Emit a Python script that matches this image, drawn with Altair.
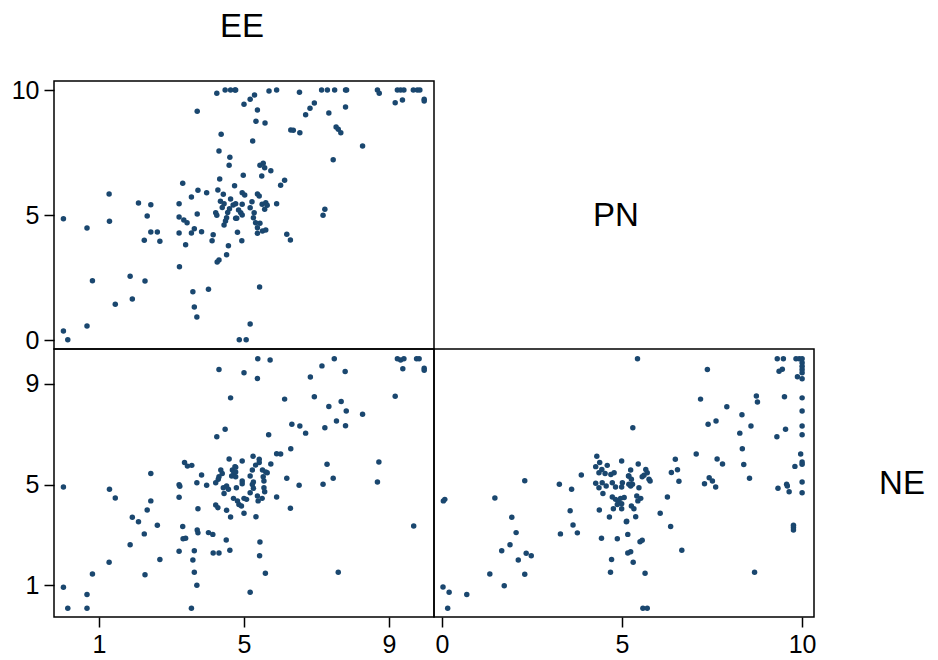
import altair as alt
import pandas as pd

NAVY = "#1a476f"
FONT = "Liberation Sans"

# (EE, PN) pairs - upper-left panel
pn_vs_ee = [
    (4.25, 9.87), (4.48, 10), (4.63, 10), (4.75, 10), (3.71, 9.15), (4.37, 8.23), (4.31, 7.56),
    (4.61, 7.31), (4.59, 6.99), (4.33, 6.44), (4.74, 6.17), (3.31, 6.27), (3.73, 5.99), (3.97, 5.89),
    (4.28, 6.0), (4.43, 5.83), (1.28, 5.84), (2.09, 5.48), (2.43, 5.41), (3.21, 5.45), (3.55, 5.72),
    (4.63, 5.64), (2.33, 4.96), (3.71, 5.04), (3.21, 4.92),
    (4.35, 5.55), (4.45, 5.45), (4.4, 5.3), (4.6, 5.25), (4.7, 5.4), (4.55, 5.1), (4.85, 5.2),
    (0.02, 4.85), (0.67, 4.48), (1.29, 4.75), (3.34, 4.8), (3.43, 4.69), (4.22, 5.09), (4.25, 4.99),
    (4.52, 4.89), (4.49, 4.76), (4.45, 4.6), (4.77, 4.87), (2.43, 4.32), (2.61, 4.32), (2.25, 3.99),
    (2.68, 3.95), (3.21, 4.28), (3.55, 4.28), (3.63, 4.45), (3.83, 4.33), (4.15, 4.21), (4.12, 3.97),
    (3.39, 3.81), (4.57, 3.77), (4.82, 4.31), (4.52, 3.41), (4.26, 3.12), (4.31, 3.2), (3.22, 2.93),
    (0.82, 2.37), (1.86, 2.55), (2.27, 2.36), (1.45, 1.43), (1.92, 1.64), (3.59, 1.93), (4.02, 2.03),
    (3.63, 1.32), (3.70, 0.92), (0.02, 0.36), (0.14, 0.01), (0.67, 0.56), (4.87, 0.01), (5.06, 0.01),
    (4.77, 10), (5.69, 9.96), (5.9, 10), (6.53, 9.91), (7.14, 10), (7.3, 10), (7.5, 10), (7.8, 10),
    (7.83, 10), (8.68, 10), (8.73, 9.87), (9.23, 10), (9.32, 10), (9.41, 10), (9.67, 10), (9.78, 10),
    (9.85, 10), (9.97, 9.63), (9.97, 9.56), (9.17, 9.49), (9.37, 9.6), (5.0, 9.43), (5.17, 9.63),
    (5.29, 9.8), (5.37, 9.2), (5.33, 8.75), (5.58, 8.68), (6.70, 9.01), (6.82, 9.27), (6.94, 9.48),
    (7.34, 9.08), (7.8, 9.32), (6.29, 8.4), (6.36, 8.39), (6.54, 8.29), (7.54, 8.52), (7.6, 8.43),
    (7.67, 8.29), (8.27, 7.76), (5.24, 7.96), (7.46, 7.21), (5.44, 6.99), (5.53, 7.07), (5.57, 6.89),
    (5.74, 6.77), (4.98, 6.59), (5.49, 6.56), (6.12, 6.39), (6.01, 6.19), (4.95, 5.89), (5.02, 5.8),
    (5.37, 5.84), (5.42, 5.76), (5.22, 5.53), (4.77, 5.45), (4.95, 5.43), (5.17, 5.29), (5.5, 5.43),
    (5.6, 5.49), (5.64, 5.39), (5.57, 5.23), (5.9, 5.45), (5.28, 5.09), (4.91, 5.09), (7.23, 5.23),
    (7.18, 4.99), (4.8, 4.87), (4.95, 5.0), (5.26, 4.89), (5.32, 4.69), (5.44, 4.67), (5.37, 4.49),
    (5.51, 4.36), (5.6, 4.4), (5.37, 4.27), (4.94, 3.97), (6.18, 4.23), (6.28, 4.0), (5.43, 2.12),
    (5.17, 0.64),
]

# (EE, NE) pairs - lower-left panel
ne_vs_ee = [
    (4.31, 9.57), (4.63, 8.44), (4.48, 7.19), (4.25, 6.9), (4.59, 6.01), (3.36, 5.87), (3.44, 5.73),
    (3.56, 5.76), (2.43, 5.44), (3.83, 5.38), (4.36, 5.58), (4.40, 5.44), (4.31, 5.31), (4.29, 5.21),
    (4.68, 5.58), (4.75, 5.71), (4.72, 5.47), (4.66, 5.34), (0.02, 4.9), (3.21, 4.99), (3.23, 4.93),
    (3.70, 5.07), (3.97, 4.97), (4.22, 5.07),
    (5.38, 9.99), (5.72, 9.94), (7.49, 9.99), (7.15, 9.71), (5.0, 9.44), (5.37, 9.21), (6.83, 9.27),
    (7.79, 9.49), (9.23, 9.99), (9.32, 9.94), (9.41, 9.99), (9.76, 9.99), (9.83, 9.99), (9.38, 9.6),
    (9.97, 9.62), (9.97, 9.54), (9.17, 8.5), (6.12, 8.39), (6.94, 8.48), (7.34, 8.1), (7.68, 8.3),
    (7.82, 7.92), (8.27, 7.79), (6.32, 7.39), (6.54, 7.32), (6.70, 7.04), (7.23, 7.25), (7.55, 7.52),
    (7.8, 7.33), (5.68, 6.98), (6.29, 6.42), (5.9, 6.22), (6.01, 6.21), (4.95, 5.93), (5.25, 6.12),
    (5.42, 6.0), (5.32, 5.77), (5.42, 5.87), (5.74, 5.81), (7.29, 5.8), (8.72, 5.89),
    (4.77, 5.69), (4.77, 5.5), (4.77, 5.31), (4.95, 5.14), (5.23, 5.58), (5.17, 5.34), (5.51, 5.58),
    (5.6, 5.5), (5.64, 5.47), (5.53, 5.31), (5.55, 5.14), (5.26, 5.1), (5.23, 5.0), (6.18, 5.25),
    (6.52, 4.97), (7.18, 5.01), (7.46, 5.25), (8.68, 5.1),
    (1.29, 4.81), (1.45, 4.46), (2.43, 4.35), (2.33, 3.99), (1.92, 3.7), (2.09, 3.52), (2.61, 3.38),
    (2.25, 3.04), (1.86, 2.61), (1.28, 1.91), (0.82, 1.45), (2.27, 1.42), (2.68, 2.02), (3.21, 4.49),
    (4.43, 4.87), (4.52, 4.94), (4.57, 4.81), (4.45, 4.64), (4.79, 4.87), (4.71, 4.45), (4.82, 4.35),
    (4.86, 4.21), (4.22, 4.19), (4.28, 4.08), (4.52, 3.98), (4.63, 3.71), (3.73, 4.04), (3.31, 3.33),
    (3.71, 3.19), (3.73, 3.08), (4.02, 3.09), (4.14, 3.02), (3.32, 2.85), (3.39, 2.87), (4.51, 2.8),
    (3.21, 2.35), (3.63, 2.37), (4.15, 2.28), (4.31, 2.28), (4.61, 2.39), (3.59, 2.0), (3.63, 1.52),
    (3.70, 1.0), (0.02, 0.92), (0.67, 0.63), (0.14, 0.09), (0.67, 0.09), (3.55, 0.09),
    (4.95, 5.03), (5.26, 4.85), (5.55, 4.87), (5.57, 4.71), (5.17, 4.67), (5.37, 4.54), (5.5, 4.45),
    (5.39, 4.35), (5.0, 4.45), (5.07, 4.41), (4.93, 4.15), (5.0, 3.86), (5.9, 4.5), (6.28, 4.06),
    (5.33, 3.72), (9.68, 3.35), (5.44, 2.72), (5.43, 2.17), (5.59, 1.48), (7.6, 1.52), (5.17, 0.72),
]

# (PN, NE) pairs - lower-right panel
ne_vs_pn = [
    (4.30, 6.12), (4.99, 5.93), (4.38, 5.87), (4.27, 5.71), (4.59, 5.76), (4.44, 5.6), (4.36, 5.47),
    (4.53, 5.44), (4.69, 5.4), (4.78, 5.47), (5.18, 5.34), (3.87, 5.38), (2.30, 5.15), (3.26, 5.01),
    (4.27, 5.05), (4.45, 5.07), (4.73, 5.07), (5.01, 5.07),
    (5.43, 9.99), (7.37, 9.57), (9.31, 9.99), (9.48, 9.99), (9.83, 9.99), (9.92, 9.99), (10, 9.99),
    (10, 9.83), (10, 9.7), (10, 9.57), (10, 9.44), (10, 9.2), (9.36, 9.5), (9.45, 9.58), (9.87, 9.28),
    (7.18, 8.39), (8.73, 8.51), (8.76, 8.28), (9.51, 8.48), (10, 8.44), (7.91, 8.09), (8.33, 7.77),
    (10, 7.92), (7.39, 7.39), (7.61, 7.52), (8.58, 7.32), (5.3, 7.25), (10, 7.32), (8.27, 7.04),
    (9.54, 7.19), (9.3, 6.9), (10, 6.98), (8.34, 6.42), (7.06, 6.21), (6.48, 6.0), (7.64, 6.01),
    (7.79, 5.81), (8.38, 5.79), (9.96, 6.21), (10, 5.89), (10, 5.8), (9.8, 5.72), (5.45, 5.81),
    (5.24, 5.58), (5.19, 5.34), (5.26, 5.21), (5.66, 5.6), (5.7, 5.47), (5.61, 5.37), (5.56, 5.31),
    (5.75, 5.21), (6.37, 5.48), (6.54, 5.59), (6.58, 5.13), (8.54, 5.25), (7.29, 5.03), (7.42, 5.27),
    (7.51, 5.14), (10, 5.1), (9.57, 5.01),
    (3.6, 4.81), (4.36, 4.87), (4.56, 4.94), (4.82, 4.9), (4.99, 4.9), (5.19, 5.01), (4.47, 4.64),
    (4.73, 4.5), (4.82, 4.41), (4.9, 4.32), (4.96, 4.45), (4.99, 4.24), (4.87, 4.21), (4.76, 4.04),
    (4.99, 4.04), (4.37, 3.99), (3.56, 3.96), (4.65, 3.71), (5.12, 3.52), (3.64, 3.39), (3.29, 3.04),
    (3.76, 3.08), (4.43, 2.87), (4.87, 2.85), (5.16, 3.02), (5.16, 2.28), (4.71, 2.02), (4.68, 1.52),
    (0.04, 4.35), (0.08, 4.41), (1.47, 4.46), (1.94, 3.7), (2.06, 3.09), (1.89, 2.61), (1.66, 2.37),
    (2.34, 2.27), (2.48, 2.17), (2.12, 2.0), (1.33, 1.45), (2.3, 1.44), (1.73, 0.98), (0.03, 0.93),
    (0.2, 0.72), (0.69, 0.63), (0.16, 0.09),
    (5.29, 5.01), (5.24, 4.94), (5.47, 4.87), (5.06, 4.48), (5.41, 4.54), (5.52, 4.45), (5.44, 4.35),
    (5.26, 4.15), (5.33, 4.04), (5.38, 3.72), (5.13, 3.54), (5.78, 5.14), (6.26, 4.5), (6.06, 3.86),
    (6.35, 3.33), (5.5, 2.73), (5.56, 2.79), (5.24, 2.33), (5.31, 1.91), (5.64, 1.48), (6.66, 2.39),
    (8.68, 1.52), (7.6, 4.9), (9.33, 4.85), (9.59, 4.94), (9.64, 4.71), (10, 4.67), (9.76, 3.38),
    (9.76, 3.29), (9.76, 3.19), (5.58, 0.09), (5.7, 0.09),
]

variable_names = ["EE", "PN", "NE"]

left_x_ticks = [1, 5, 9]
right_x_ticks = [0, 5, 10]
top_y_ticks = [0, 5, 10]
bottom_y_ticks = [1, 5, 9]

ee_domain = [-0.24, 10.24]
pn_y_domain = [-0.36, 10.36]
ne_domain = [-0.26, 10.38]
pn_x_domain = [-0.22, 10.33]

W, H = 380, 268
TOP_H = 72
RIGHT_W = 112


def make_axis(values, orient):
    return alt.Axis(values=values, orient=orient, title=None, grid=False, domain=False,
                    ticks=True, tickSize=10, tickWidth=1.5, tickColor="black",
                    labelFontSize=25, labelFont=FONT, labelColor="black", labelPadding=5,
                    labelFlush=False, labelOverlap=False)


def panel(pairs, xdom, ydom, xvals=None, yvals=None):
    df = pd.DataFrame(pairs, columns=["x", "y"])
    xa = make_axis(xvals, "bottom") if xvals else None
    ya = make_axis(yvals, "left") if yvals else None
    return alt.Chart(df).mark_circle(size=30, color=NAVY, opacity=1).encode(
        x=alt.X("x:Q", scale=alt.Scale(domain=xdom, nice=False, zero=False), axis=xa),
        y=alt.Y("y:Q", scale=alt.Scale(domain=ydom, nice=False, zero=False), axis=ya),
    ).properties(width=W, height=H)


def label_cell(text, w, h, px, py):
    return alt.Chart(pd.DataFrame({"t": [text]})).mark_text(
        fontSize=33, font=FONT, color="black", align="center", baseline="alphabetic"
    ).encode(
        text="t:N", x=alt.value(px), y=alt.value(py)
    ).properties(width=w, height=h, view=alt.ViewBackground(stroke="transparent"))


ee_cell = label_cell(variable_names[0], W, TOP_H, 188, 28)
pn_cell = label_cell(variable_names[1], W, H, 182, 145)
ne_cell = label_cell(variable_names[2], RIGHT_W, H, 88, 145)
blank_top_mid = label_cell("", W, TOP_H, W // 2, TOP_H // 2)
blank_top_right = label_cell("", RIGHT_W, TOP_H, RIGHT_W // 2, TOP_H // 2)
blank_mid_right = label_cell("", RIGHT_W, H, RIGHT_W // 2, H // 2)

tl = panel(pn_vs_ee, ee_domain, pn_y_domain, yvals=top_y_ticks)
bl = panel(ne_vs_ee, ee_domain, ne_domain, xvals=left_x_ticks, yvals=bottom_y_ticks)
br = panel(ne_vs_pn, pn_x_domain, ne_domain, xvals=right_x_ticks)

chart = alt.concat(
    ee_cell, blank_top_mid, blank_top_right,
    tl, pn_cell, blank_mid_right,
    bl, br, ne_cell,
    columns=3, spacing=0, bounds="flush", align="each",
).properties(
    padding={"left": 2, "top": 0, "right": 0, "bottom": 0}
).configure(background="white").configure_view(stroke="black", strokeWidth=1.5)

chart.save("out.html", embed_options={"renderer": "svg", "actions": False})
